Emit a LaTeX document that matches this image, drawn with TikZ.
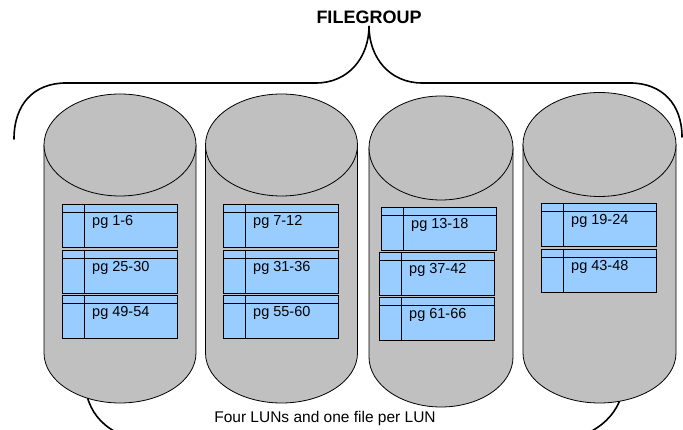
\documentclass[tikz,border=0pt]{standalone}
\usepackage{fontspec}
\setmainfont{Liberation Sans}
\definecolor{lungray}{HTML}{C0C0C0}
\definecolor{pgblue}{HTML}{99CCFF}

\begin{document}
\begin{tikzpicture}[x=1pt, y=1pt,
        lun/.style={fill=lungray, draw=black, line width=0.8pt},
        pgbox/.style={rectangle, draw=black, fill=pgblue, line width=0.8pt, minimum width=115pt, minimum height=43pt, inner sep=0pt, outer sep=0pt, anchor=north west},
        pglabel/.style={anchor=base west, inner sep=0pt, font=\fontsize{14.5}{16}\selectfont},
        brace/.style={line width=1.6pt, line cap=round}
    ]
        \useasboundingbox (0,0) rectangle (683,430);

        \begin{scope}
        \clip (0,0) rectangle (683,430);
        % Lower bracket, mostly behind the LUNs
        \draw[brace] (84,60) .. controls (84,20) and (100,0) .. (140,-12) -- (565,-12) .. controls (605,0) and (625,20) .. (625,60);

        % LUNs
        \foreach \cx/\rx/\yt/\rt/\yb in {120/76/285/51/77, 281.5/76/285/51/77, 441/72/282/52/73, 599.5/76.5/285.5/52/77} {
            \filldraw[lun] (\cx-\rx,\yt) -- (\cx-\rx,\yb) arc[start angle=180, end angle=360, x radius=\rx, y radius=50] -- (\cx+\rx,\yt) -- cycle;
            \filldraw[lun] (\cx,\yt) ellipse[x radius=\rx, y radius=\rt];
        }
        \end{scope}

        % Filegroup bracket
        \node[font=\bfseries\fontsize{18}{20}\selectfont] (fg) at (369,413) {FILEGROUP};
        \draw[brace] (14,291) .. controls (14,326) and (34,347) .. (66,347) -- (316,347) .. controls (348,347) and (369,372) .. (369,404) .. controls (369,372) and (390,347) .. (422,347) -- (630,347) .. controls (662,347) and (682,326) .. (682,293);

        % Files on each LUN
        \node[pgbox] (a1) at (62,226) {};
        \node[pgbox] (a2) at (62,180) {};
        \node[pgbox] (a3) at (62,135) {};
        \node[pgbox] (b1) at (223,226) {};
        \node[pgbox] (b2) at (223,180) {};
        \node[pgbox] (b3) at (223,135) {};
        \node[pgbox] (c1) at (381,223) {};
        \node[pgbox] (c2) at (379,178) {};
        \node[pgbox] (c3) at (379,133) {};
        \node[pgbox] (d1) at (541,227) {};
        \node[pgbox] (d2) at (541,181) {};
        \foreach \b/\t in {a1/1-6, a2/25-30, a3/49-54, b1/7-12, b2/31-36, b3/55-60, c1/13-18, c2/37-42, c3/61-66, d1/19-24, d2/43-48} {
            \draw[line width=0.8pt] ([yshift=-8.5pt]\b.north west) -- ([yshift=-8.5pt]\b.north east);
            \draw[line width=0.8pt] ([xshift=22pt]\b.north west) -- ([xshift=22pt]\b.south west);
            \node[pglabel] (t\b) at ([xshift=30pt, yshift=-22pt]\b.north west) {pg \t};
        }

        % Caption
        \node[anchor=base, inner sep=0pt, font=\fontsize{15.5}{17}\selectfont] (cap) at (325,7) {Four LUNs and one file per LUN};
    \end{tikzpicture}
\end{document}
